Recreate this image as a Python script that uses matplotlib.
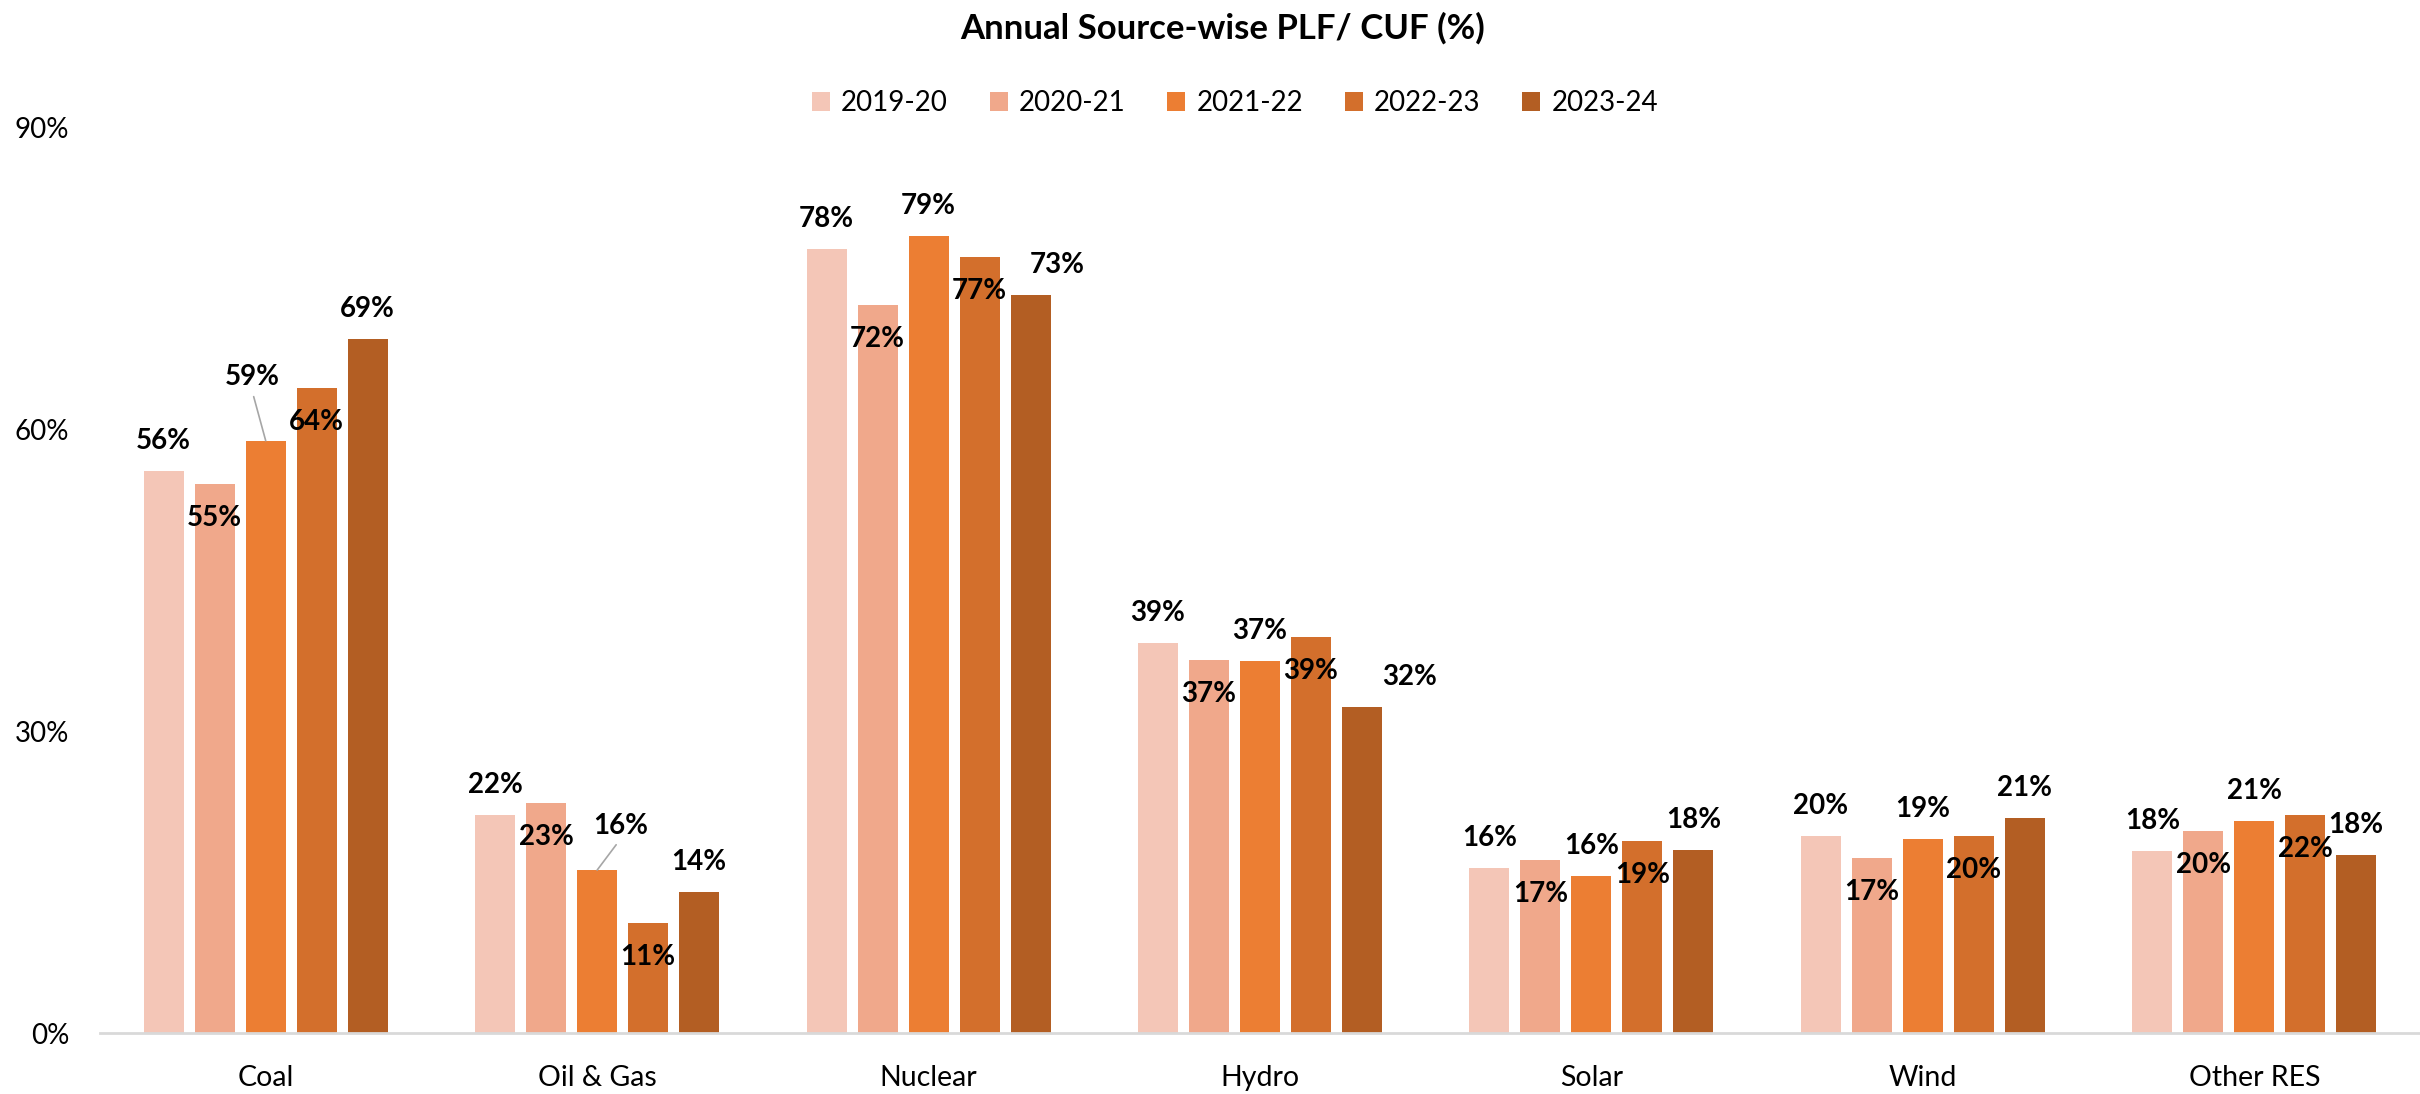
import numpy as np
import matplotlib
matplotlib.use('Agg')
import matplotlib.pyplot as plt
from matplotlib.patches import Patch

plt.rcParams['font.family'] = ['Lato', 'DejaVu Sans']

# data
sources = ['Coal', 'Oil & Gas', 'Nuclear', 'Hydro', 'Solar', 'Wind', 'Other RES']
years = ['2019-20', '2020-21', '2021-22', '2022-23', '2023-24']
plf_1920 = [55.9, 21.7, 78.0, 38.8, 16.4, 19.6, 18.1]
plf_2021 = [54.6, 22.9, 72.4, 37.1, 17.2, 17.4, 20.1]
plf_2122 = [58.9, 16.2, 79.3, 37.0, 15.6, 19.3, 21.1]
plf_2223 = [64.1, 10.9, 77.2, 39.4, 19.1, 19.6, 21.7]
plf_2324 = [69.0, 14.0, 73.4, 32.4, 18.2, 21.4, 17.7]
series = [plf_1920, plf_2021, plf_2122, plf_2223, plf_2324]
colors = ['#F4C6B7', '#F0A88B', '#EC7E33', '#D36F2C', '#B35E23']

W, H = 2420, 1094
fig = plt.figure(figsize=(W / 100, H / 100), dpi=100)
ax = fig.add_axes([100 / W, 61 / H, 2320 / W, 905 / H])

x = np.arange(len(sources))
step = 0.1538
bw = 0.1207

# labels moved by hand in the original (offsets in points)
leader = {(0, 2): (-10, 46), (1, 2): (17, 32)}
moved = {(2, 4): (19, 21.5), (3, 4): (34, 21.5)}

for i, (vals, c) in enumerate(zip(series, colors)):
    xs = x + (i - 2) * step
    ax.bar(xs, vals, width=bw, color=c, zorder=2)
    for j, (xx, v) in enumerate(zip(xs, vals)):
        txt = '%d%%' % round(v)
        if (j, i) in leader:
            dx, dy = leader[(j, i)]
            ax.annotate(txt, xy=(xx, v), xytext=(dx, dy), textcoords='offset points',
                        ha='center', va='center', fontsize=20, fontweight='bold',
                        arrowprops=dict(arrowstyle='-', color='#A6A6A6', lw=1.2,
                                        relpos=(0.5, 0), shrinkA=3, shrinkB=0))
            continue
        if (j, i) in moved:
            dx, dy = moved[(j, i)]
        else:
            dx, dy = 0, (21.5 if i % 2 == 0 else -24.5)
        ax.annotate(txt, xy=(xx, v), xytext=(dx, dy), textcoords='offset points',
                    ha='center', va='center', fontsize=20, fontweight='bold', zorder=3)

ax.set_xlim(-0.5, 6.5)
ax.set_ylim(0, 90)
ax.set_yticks([0, 30, 60, 90])
ax.set_yticklabels(['%d%%' % t for t in [0, 30, 60, 90]])
ax.set_xticks(x)
ax.set_xticklabels(sources)
ax.tick_params(axis='y', length=0, pad=22, labelsize=20)
ax.tick_params(axis='x', length=0, pad=23, labelsize=20.5)

for s in ['top', 'right', 'left']:
    ax.spines[s].set_visible(False)
ax.spines['bottom'].set_color('#D9D9D9')
ax.spines['bottom'].set_linewidth(2)
ax.spines['bottom'].set_zorder(3)

fig.text(1223 / W, 1 - 28 / H, 'Annual Source-wise PLF/ CUF (%)', ha='center', va='center',
         fontsize=25, fontweight='bold')

handles = [Patch(facecolor=c, label=y) for c, y in zip(colors, years)]
fig.legend(handles=handles, loc='center', bbox_to_anchor=(1235 / W, 1 - 103 / H), ncol=5,
           frameon=False, fontsize=20, handlelength=0.65, handleheight=0.65,
           handletextpad=0.4, columnspacing=1.5)

fig.savefig('out.png', dpi=100)
